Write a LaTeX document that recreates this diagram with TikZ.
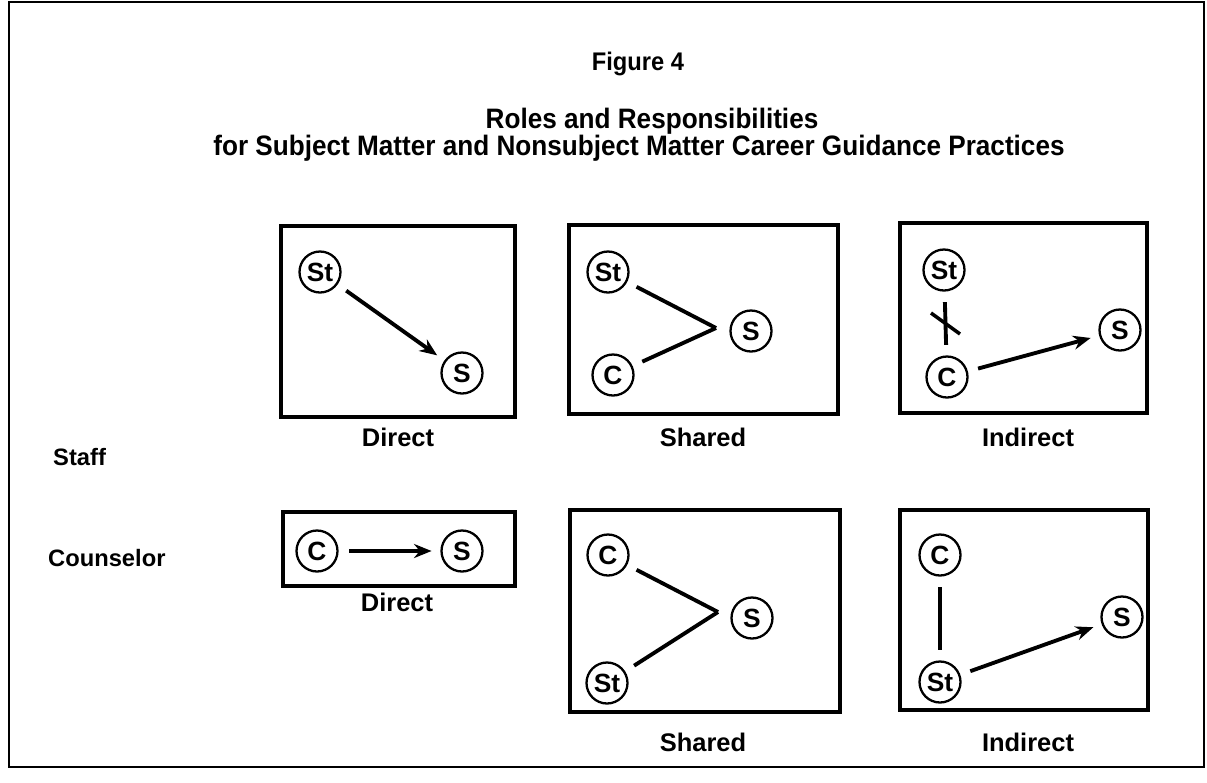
\documentclass[tikz,border=0pt]{standalone}
\usepackage{fontspec}
\setmainfont{Liberation Sans}
\newfontfamily\condfont[FakeStretch=0.93]{Liberation Sans}
\usetikzlibrary{arrows.meta}
\tikzset{
  pnl/.style={draw, line width=1.8pt},
  who/.style={circle, draw, line width=1.3pt, minimum size=0.82cm, inner sep=0pt, font=\bfseries\fontsize{15}{15}\selectfont},
  link/.style={line width=2.2pt, shorten <=6pt},
  arr/.style={link, -{Stealth[length=10pt,width=8pt]}, shorten >=5pt},
  paneltext/.style={font=\bfseries\fontsize{14.5}{14.5}\selectfont},
  rowlab/.style={anchor=west, font=\bfseries\fontsize{13.5}{13.5}\selectfont},
  ttl/.style={font=\condfont\bfseries\fontsize{16}{16}\selectfont},
  figttl/.style={font=\condfont\bfseries\fontsize{14.5}{14.5}\selectfont}
}
\begin{document}
\begin{tikzpicture}[x=0.02cm, y=-0.02cm]
\useasboundingbox (0,0) rectangle (1207,782);
\draw[line width=1.6pt] (9,2) rectangle (1204,767);
% titles
\node[figttl] (fig) at (638,64) {Figure 4};
\node[ttl] (t1) at (652,121) {Roles and Responsibilities};
\node[ttl] (t2) at (639,148) {for Subject Matter and Nonsubject Matter Career Guidance Practices};
% row labels
\node[rowlab] (staff) at (47,457) {Staff};
\node[rowlab] (couns) at (42,558) {Counselor};
% Staff Direct
\draw[pnl] (281,226) rectangle (515,417);
\node[who] (st1) at (320,272) {St};
\node[who] (s1) at (462,373) {S};
\draw[arr] (st1) -- (s1);
\node[paneltext] (l1) at (398,437) {Direct};
% Staff Shared
\draw[pnl] (569,225) rectangle (838,414);
\node[who] (st2) at (608,272) {St};
\node[who] (c2) at (613,375) {C};
\node[who] (s2) at (751,331) {S};
\coordinate (v2) at (716,328);
\draw[link] (st2) -- (v2);
\draw[link] (c2) -- (v2);
\node[paneltext] (l2) at (703,437) {Shared};
% Staff Indirect
\draw[pnl] (900,223) rectangle (1147,413);
\node[who] (st3) at (944,270) {St};
\node[who] (c3) at (947,377) {C};
\node[who] (s3) at (1120,330) {S};
\draw[link, shorten >=6pt] (st3) -- (c3);
\coordinate (x1) at (931,313);
\coordinate (x2) at (960,334);
\draw[line width=2pt] (x1) -- (x2);
\draw[arr] (c3) -- (s3);
\node[paneltext] (l3) at (1028,437) {Indirect};
% Counselor Direct
\draw[pnl] (283,512) rectangle (515,586);
\node[who] (c4) at (317,551) {C};
\node[who] (s4) at (462,551) {S};
\draw[arr] (c4) -- (s4);
\node[paneltext] (l4) at (397,602) {Direct};
% Counselor Shared
\draw[pnl] (570,510) rectangle (840,712);
\node[who] (c5) at (608,555) {C};
\node[who] (st5) at (607,683) {St};
\node[who] (s5) at (752,618) {S};
\coordinate (v5) at (718,612);
\draw[link] (c5) -- (v5);
\draw[link] (st5) -- (v5);
\node[paneltext] (l5) at (703,742) {Shared};
% Counselor Indirect
\draw[pnl] (900,510) rectangle (1148,710);
\node[who] (c6) at (940,555) {C};
\node[who] (st6) at (940,682) {St};
\node[who] (s6) at (1122,617) {S};
\draw[link, shorten >=6pt] (c6) -- (st6);
\draw[arr] (st6) -- (s6);
\node[paneltext] (l6) at (1028,742) {Indirect};
\end{tikzpicture}
\end{document}
